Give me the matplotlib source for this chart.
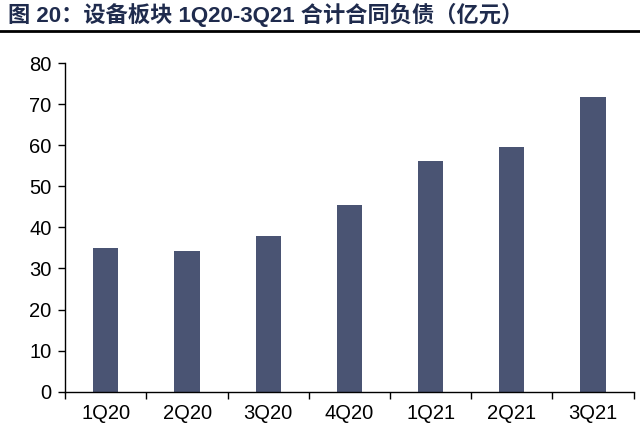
import matplotlib.pyplot as plt
import numpy as np

plt.rcParams['font.family'] = ['Liberation Sans', 'Noto Sans CJK SC', 'DejaVu Sans']

quarters = ['1Q20', '2Q20', '3Q20', '4Q20', '1Q21', '2Q21', '3Q21']
liabilities = [35.1, 34.3, 37.9, 45.5, 56.2, 59.6, 71.7]
title = '图 20：设备板块 1Q20-3Q21 合计合同负债（亿元）'

fig = plt.figure(figsize=(6.4, 4.42), dpi=100)
ax = fig.add_axes([0.102, 0.114, 0.888, 0.743])

x = np.arange(len(quarters))
ax.bar(x, liabilities, width=0.31, color='#4a5473')

ax.set_xlim(-0.5, len(quarters) - 0.5)
ax.set_ylim(0, 80)
ax.set_yticks(range(0, 81, 10))
ax.set_xticks(x)
ax.set_xticklabels(quarters)
ax.set_xticks(np.arange(-0.5, len(quarters), 1), minor=True)
ax.tick_params(axis='x', which='major', length=0, labelsize=14.5, pad=9)
ax.tick_params(axis='x', which='minor', length=5, width=1, direction='out')
ax.tick_params(axis='y', length=5, width=1, labelsize=14.5, pad=5)

for side in ['top', 'right']:
    ax.spines[side].set_visible(False)
ax.spines['left'].set_linewidth(1)
ax.spines['bottom'].set_linewidth(1)

fig.text(0.012, 0.966, title, fontsize=16, fontweight='bold', color='#1f2b4d',
         va='center', ha='left', family=['Liberation Sans', 'Noto Sans CJK SC', 'DejaVu Sans'])
fig.add_artist(plt.Line2D([0, 1], [0.93, 0.93], color='black', linewidth=2,
                          transform=fig.transFigure))

fig.savefig('out.png', dpi=100)
